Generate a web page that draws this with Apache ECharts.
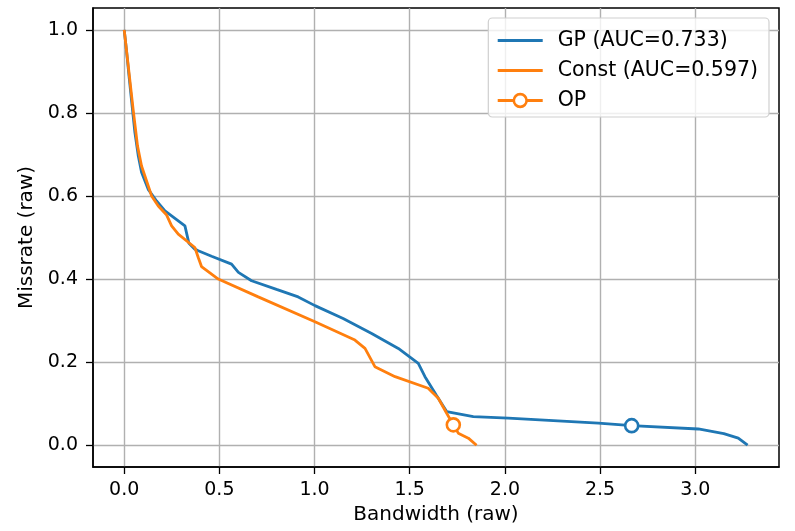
<!DOCTYPE html>
<html>
<head>
<meta charset="utf-8">
<script src="https://cdn.jsdelivr.net/npm/echarts@6/dist/echarts.min.js"></script>
<style>html,body{margin:0;padding:0;background:#fff}#c{width:795px;height:531px}</style>
</head>
<body>
<div id="c"></div>
<script>
const xTicks = [0.0, 0.5, 1.0, 1.5, 2.0, 2.5, 3.0];
const yTicks = [0.0, 0.2, 0.4, 0.6, 0.8, 1.0];

const gpBandwidth = [0, 0.012, 0.025, 0.038, 0.056, 0.074, 0.091, 0.126, 0.170, 0.214, 0.319, 0.340, 0.371, 0.389, 0.459, 0.564, 0.60, 0.669, 0.80, 0.914, 1.002, 1.15, 1.300, 1.440, 1.545, 1.580, 1.64, 1.694, 1.834, 2.018, 2.491, 2.666, 3.016, 3.15, 3.226, 3.275];
const gpMissrate  = [1.0, 0.95, 0.89, 0.832, 0.753, 0.696, 0.657, 0.616, 0.588, 0.564, 0.528, 0.486, 0.472, 0.468, 0.455, 0.436, 0.416, 0.396, 0.375, 0.357, 0.336, 0.305, 0.269, 0.233, 0.197, 0.165, 0.12, 0.081, 0.069, 0.065, 0.053, 0.047, 0.039, 0.028, 0.017, 0.0];

const constBandwidth = [0, 0.047, 0.07, 0.091, 0.144, 0.179, 0.223, 0.249, 0.284, 0.371, 0.389, 0.406, 0.494, 0.704, 1.002, 1.212, 1.265, 1.317, 1.423, 1.597, 1.650, 1.694, 1.729, 1.755, 1.808, 1.851];
const constMissrate  = [1.0, 0.808, 0.72, 0.672, 0.600, 0.576, 0.554, 0.528, 0.508, 0.476, 0.452, 0.430, 0.400, 0.357, 0.297, 0.253, 0.233, 0.189, 0.165, 0.137, 0.113, 0.077, 0.049, 0.029, 0.017, 0.0];

const opGP = [2.666, 0.047];
const opConst = [1.729, 0.049];

const names = ['GP (AUC=0.733)', 'Const (AUC=0.597)', 'OP'];
const BLUE = '#1f77b4', ORANGE = '#ff7f0e';

const zip = (a, b) => a.map((v, i) => [v, b[i]]);
const FONT = 'DejaVu Sans';

const chart = echarts.init(document.getElementById('c'), null, {renderer: 'canvas'});
chart.setOption({
  animation: false,
  textStyle: {fontFamily: FONT},
  grid: {left: 93, right: 16, top: 8, bottom: 64, containLabel: false,
         show: true, borderColor: '#000', borderWidth: 1.5},
  legend: {
    orient: 'vertical', right: 26, top: 18,
    itemWidth: 45, itemHeight: 16, itemGap: 9,
    padding: [12, 11, 6, 8],
    backgroundColor: 'rgba(255,255,255,0.8)',
    borderColor: '#d0d0d0', borderWidth: 1.2, borderRadius: 4,
    textStyle: {fontFamily: FONT, fontSize: 20.5, color: '#000', padding: [0, 0, 0, 10]},
    data: [
      {name: names[0], icon: 'path://M0,0 L45,0 L45,3 L0,3 Z', itemStyle: {color: BLUE}},
      {name: names[1], icon: 'path://M0,0 L45,0 L45,3 L0,3 Z', itemStyle: {color: ORANGE}},
      {name: names[2], lineStyle: {color: ORANGE, width: 2.8}, itemStyle: {color: '#fff', borderColor: ORANGE, borderWidth: 2.6}}
    ]
  },
  xAxis: {
    type: 'value', min: -0.164, max: 3.44,
    name: 'Bandwidth (raw)', nameLocation: 'middle', nameGap: 36,
    nameTextStyle: {fontFamily: FONT, fontSize: 20, color: '#000'},
    axisLine: {show: true, onZero: false, lineStyle: {color: '#000', width: 1.5}},
    axisTick: {show: true, inside: false, length: 7, customValues: xTicks, lineStyle: {color: '#000', width: 1.3}},
    axisLabel: {customValues: xTicks, margin: 14, fontFamily: FONT, fontSize: 19, color: '#000',
                formatter: v => v.toFixed(1)},
    splitLine: {show: true, lineStyle: {color: '#b0b0b0', width: 1.4}}
  },
  yAxis: {
    type: 'value', min: -0.0525, max: 1.0525,
    name: 'Missrate (raw)', nameLocation: 'middle', nameGap: 54, nameRotate: 90,
    nameTextStyle: {fontFamily: FONT, fontSize: 20, color: '#000'},
    axisLine: {show: true, onZero: false, lineStyle: {color: '#000', width: 1.5}},
    axisTick: {show: true, inside: false, length: 7, customValues: yTicks, lineStyle: {color: '#000', width: 1.3}},
    axisLabel: {customValues: yTicks, margin: 15, fontFamily: FONT, fontSize: 19, color: '#000',
                formatter: v => v.toFixed(1)},
    splitLine: {show: true, lineStyle: {color: '#b0b0b0', width: 1.4}}
  },
  series: [
    {name: names[0], type: 'line', data: zip(gpBandwidth, gpMissrate), showSymbol: false, symbol: 'none',
     color: BLUE, lineStyle: {color: BLUE, width: 2.8}, z: 3},
    {name: 'OP_GP', type: 'line', data: [opGP], symbol: 'circle', symbolSize: 13,
     itemStyle: {color: '#fff', borderColor: BLUE, borderWidth: 2.6}, lineStyle: {color: BLUE, width: 2.8}, z: 4},
    {name: names[1], type: 'line', data: zip(constBandwidth, constMissrate), showSymbol: false, symbol: 'none',
     color: ORANGE, lineStyle: {color: ORANGE, width: 2.8}, z: 5},
    {name: names[2], type: 'line', data: [opConst], symbol: 'circle', symbolSize: 13,
     color: ORANGE,
     itemStyle: {color: '#fff', borderColor: ORANGE, borderWidth: 2.6}, lineStyle: {color: ORANGE, width: 2.8}, z: 6}
  ]
});
</script>
</body>
</html>
